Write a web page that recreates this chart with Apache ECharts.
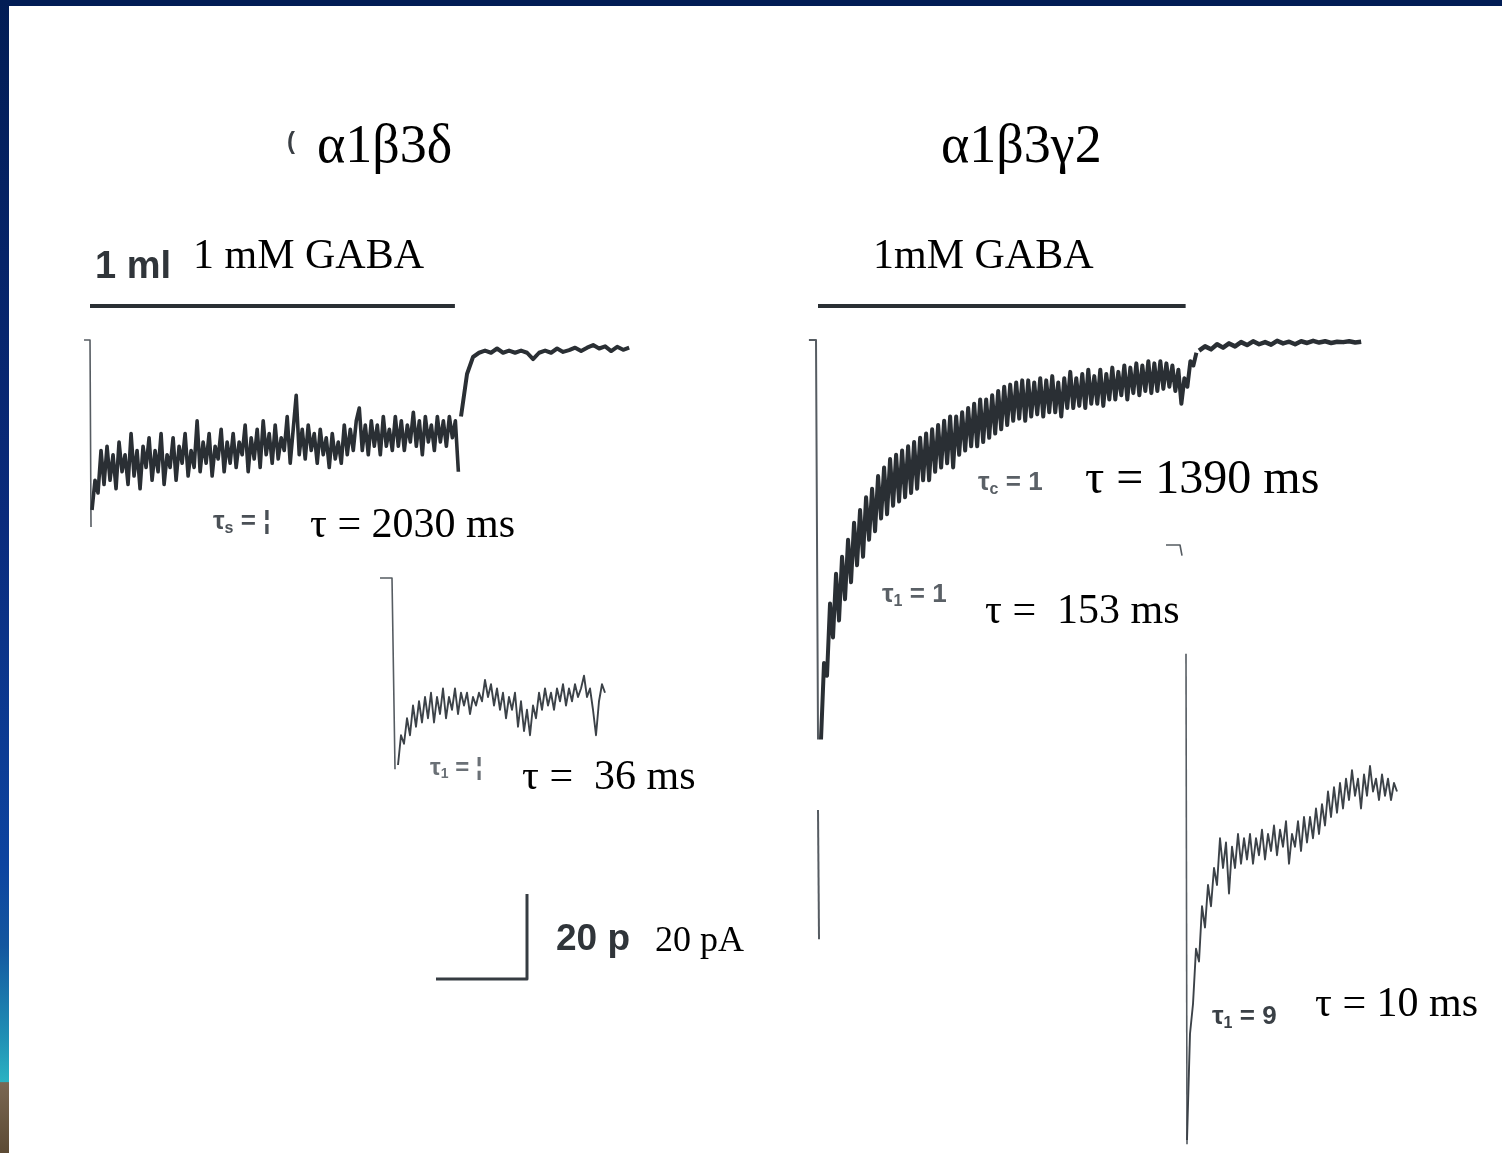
<!DOCTYPE html>
<html><head><meta charset="utf-8">
<script src="https://cdn.jsdelivr.net/npm/echarts@6/dist/echarts.min.js"></script>
<style>html,body{margin:0;padding:0;background:#fff}#c{width:1502px;height:1153px}</style>
</head><body><div id="c"></div>
<script>
// ---------- DATA (time in ms, current in pA relative to baseline) ----------
const gabaLeftMs = [0, 4010];          // 1 mM GABA application, alpha1beta3delta
const gabaRightMs = [0, 4040];         // 1 mM GABA application, alpha1beta3gamma2
const scaleBarMs = [0, 1000];
const scaleBarPA = [0, 20];

// alpha1beta3delta, full response
const aOnsetMs = [-66, -22, 0, 11];
const aOnsetPA = [0, 0, 0, -44];
const aDecayT0 = 22, aDecayDt = 33;
const aDecayPA = [
-40,-33,-36,-26,-34,-25,-33,-27,-35,-24,
-31,-27,-34,-22,-32,-26,-35,-25,-30,-23,
-33,-26,-31,-22,-34,-27,-30,-23,-33,-25,
-29,-22,-32,-26,-30,-19,-31,-24,-29,-22,
-32,-25,-28,-21,-31,-24,-29,-22,-30,-24,
-27,-20,-31,-23,-28,-21,-30,-19,-27,-22,
-29,-20,-28,-23,-26,-18,-29,-21,-13,-27,
-21,-28,-20,-26,-22,-29,-21,-27,-23,-30,
-22,-28,-24,-29,-20,-27,-21,-26,-19,-16,
-26,-20,-27,-19,-25,-20,-27,-18,-25,-21,
-26,-18,-25,-19,-26,-20,-24,-17,-25,-19,
-27,-18,-24,-20,-26,-18,-24,-19,-25,-18,
-23,-19,-31];
const aRecovT0 = 4077, aRecovDt = 66;
const aRecovPA = [-18,-8,-4,-3,-2.5,-3,-2,-3,-2.5,-3,-2.5,-3,-4.5,-3,-2.5,-3,-2,-2.8,-2.4,-1.8,-2.6,-1.8,-1.2,-2,-1.5,-2.6,-1.6,-2.3,-1.8];

// alpha1beta3delta, fast component (expanded time)
const bOnsetMs = [10, 22, 25];
const bOnsetPA = [0, 0, -45];
const bDecayT0 = 28, bDecayDt = 3;
const bDecayPA = [
-44,-37,-39,-33,-37,-30,-35,-29,-34,-28,
-33,-27,-34,-28,-32,-26,-33,-28,-31,-26,
-32,-27,-30,-27,-32,-28,-30,-27,-29,-24,
-28,-25,-30,-26,-31,-27,-33,-28,-31,-27,
-35,-29,-36,-31,-37,-30,-33,-27,-31,-26,
-30,-27,-31,-26,-29,-25,-30,-26,-29,-25,
-28,-26,-23,-28,-26,-31,-37,-29,-25,-27];

// alpha1beta3gamma2, full response
const cOnsetMs = [-100, -22, 0];
const cOnsetPA = [0, 0, -94];
const cPeakMs = [0, 11];
const cPeakPA = [-110.6, -141];
const cDecayT0 = 33, cDecayDt = 33;
const cDecayPA = [
-94,-76,-79,-62,-70,-55,-66,-51,-61,-47,
-57,-43,-53,-40,-51,-37,-47,-35,-45,-32,
-42,-30,-41,-28,-39,-27,-38,-26,-37,-25,
-36,-24,-35,-23,-33,-22,-33,-21,-31,-20,
-30,-19,-29,-18,-30,-18,-27,-17,-26,-16,
-25,-15,-25,-14,-24,-14,-23,-13,-22,-12,
-21,-11,-20,-10.5,-19,-10,-18.5,-9.5,-19,-9.5,
-18,-10,-17.5,-9,-18,-9.5,-17,-8.5,-17,-10,
-18,-9,-16,-7.5,-16,-9,-15.5,-8,-16,-7,
-15,-8.5,-15,-7,-15.5,-8,-14,-6.5,-14,-7.5,
-13,-6,-14,-6.5,-12.5,-5.5,-13,-6,-12,-5,
-12.5,-5.5,-12,-5,-11.5,-5.5,-11,-6,-12,-7,
-15,-9,-11,-5,-6,-3];
const cRecovT0 = 4187, cRecovDt = 66;
const cRecovPA = [-2.5,-1.5,-2.2,-1,-1.8,-0.8,-1.5,-0.5,-1.2,-0.3,-1,-0.5,-1.1,-0.2,-0.8,-0.4,-1,-0.3,-0.7,-0.2,-0.6,-0.3,-0.7,-0.4,-0.5,-0.3,-0.6,-0.4];

// alpha1beta3gamma2, fast component (expanded time)
const dOnsetMs = [4, 7.5, 8];
const dOnsetPA = [0, 0, -2.5];
const dPeakMs = [9, 9.25];
const dPeakPA = [-25.6, -141];
const dDecayT0 = 9.25, dDecayDt = 0.75;
const dDecayPA = [
-140,-115,-108,-95,-98,-85,-90,-80,-85,-76,
-80,-69,-76,-70,-82,-71,-76,-68,-75,-69,
-74,-68,-75,-69,-73,-67,-74,-68,-72,-66,
-73,-67,-71,-65,-75,-68,-71,-65,-72,-64,
-70,-64,-69,-62,-68,-61,-66,-58,-64,-57,
-63,-56,-62,-55,-60,-53,-59,-55,-62,-54,
-59,-52,-58,-55,-60,-54,-59,-55,-60,-56,
-58];

// ---------- BUILD ----------
const seg = (t0, dt, vals) => vals.map((v, i) => [t0 + i * dt, v]);
const pairs = (ts, vs) => ts.map((t, i) => [t, vs[i]]);

const TRACE = '#2a2f34';
const THIN = '#565c62';
const SERIF = "'Liberation Serif','Times New Roman',serif";
const SANS = "'Liberation Sans','DejaVu Sans',Arial,sans-serif";

const grids = [
  {left: 80, top: 318.75, width: 556.01, height: 233.75},   // 0 A
  {left: 370, top: 556.75, width: 250, height: 233.75},      // 1 B
  {left: 808, top: 318.75, width: 556.01, height: 658.75},   // 2 C
  {left: 1150, top: 523.75, width: 260, height: 624.75},     // 3 D
  {left: 90, top: 300, width: 546, height: 12},              // 4 GABA L
  {left: 818, top: 300, width: 546, height: 12},             // 5 GABA R
  {left: 436, top: 894, width: 91, height: 85}               // 6 scale
];
const xr = [[-110,6000],[0,250],[-110,6000],[0,65],[0,6000],[0,6000],[0,1000]];
const yr = [[-50,5],[-50,5],[-150,5],[-142,5],null,null,[0,20]];

const xAxis = xr.map((r, i) => ({gridIndex: i, type: 'value', min: r[0], max: r[1], show: false}));
const yAxis = yr.map((r, i) => r ? ({gridIndex: i, type: 'value', min: r[0], max: r[1], show: false})
                               : ({gridIndex: i, type: 'category', data: ['GABA'], show: false}));

function line(gi, data, width, color) {
  return {type: 'line', xAxisIndex: gi, yAxisIndex: gi, data: data, showSymbol: false, silent: true, clip: false,
          lineStyle: {width: width, color: color, join: 'round'}, z: 3};
}

const series = [
  line(0, pairs(aOnsetMs, aOnsetPA), 1.6, THIN),
  line(0, seg(aDecayT0, aDecayDt, aDecayPA), 3.6, TRACE),
  line(0, seg(aRecovT0, aRecovDt, aRecovPA), 4, TRACE),
  line(1, pairs(bOnsetMs, bOnsetPA), 1.6, THIN),
  line(1, seg(bDecayT0, bDecayDt, bDecayPA), 1.9, '#3c4248'),
  line(2, pairs(cOnsetMs, cOnsetPA), 2, THIN),
  line(2, pairs(cPeakMs, cPeakPA), 2, THIN),
  line(2, seg(cDecayT0, cDecayDt, cDecayPA), 4, TRACE),
  line(2, seg(cRecovT0, cRecovDt, cRecovPA), 4.5, TRACE),
  line(3, pairs(dOnsetMs, dOnsetPA), 1.6, THIN),
  line(3, pairs(dPeakMs, dPeakPA), 1.6, THIN),
  line(3, seg(dDecayT0, dDecayDt, dDecayPA), 1.9, '#3c4248'),
  line(4, gabaLeftMs.map(t => [t, 'GABA']), 4, TRACE),
  line(5, gabaRightMs.map(t => [t, 'GABA']), 4, TRACE),
  line(6, [[scaleBarMs[0], scaleBarPA[0]], [scaleBarMs[1], scaleBarPA[0]], [scaleBarMs[1], scaleBarPA[1]]], 3, '#363c42')
];

function txt(x, y, text, size, extra) {
  return Object.assign({type: 'text', x: x, y: y, z: 10, silent: true,
    style: Object.assign({text: text, font: size + 'px ' + SERIF, fill: '#000', textAlign: 'left', textVerticalAlign: 'middle'}, extra || {})});
}
function ghost(x, y, main, sub, tail, size, color) {
  return {type: 'text', x: x, y: y, z: 10, silent: true,
    style: {text: '{m|' + main + '}{s|' + sub + '}{m|' + tail + '}', textVerticalAlign: 'middle',
      rich: {m: {font: 'bold ' + size + 'px ' + SANS, fill: color},
             s: {font: 'bold ' + Math.round(size * 0.6) + 'px ' + SANS, fill: color, padding: [size * 0.5, 0, 0, 0]}}}};
}

const graphic = [
  {type: 'rect', z: 20, shape: {x: 0, y: 0, width: 1502, height: 6}, style: {fill: '#021d55'}},
  {type: 'rect', z: 20, shape: {x: 0, y: 0, width: 9, height: 1153},
   style: {fill: new echarts.graphic.LinearGradient(0, 0, 0, 1, [
     {offset: 0, color: '#021d55'}, {offset: 0.45, color: '#0a2b7c'}, {offset: 0.75, color: '#0d44a0'},
     {offset: 0.82, color: '#14569f'}, {offset: 0.9, color: '#2090b5'}, {offset: 0.938, color: '#2bb2c2'},
     {offset: 0.939, color: '#7a6752'}, {offset: 1, color: '#5c4a34'}])}},
  txt(317, 148, 'α1β3δ', 54),
  txt(941, 148, 'α1β3γ2', 54),
  txt(193, 257, '1 mM GABA', 42),
  txt(873, 257, '1mM GABA', 42),
  txt(310, 526, 'τ = 2030 ms', 42),
  txt(522, 778, 'τ =  36 ms', 42),
  txt(1085, 480, 'τ = 1390 ms', 48),
  txt(985, 612, 'τ =  153 ms', 42),
  txt(1315, 1005, 'τ = 10 ms', 42),
  txt(655, 942, '20 pA', 36),
  txt(95, 268, '1 ml', 38, {font: 'bold 38px ' + SANS, fill: '#30353a'}),
  txt(556, 940, '20 p', 37, {font: 'bold 37px ' + SANS, fill: '#30353a'}),
  txt(287, 142, '(', 24, {font: 'bold 24px ' + SANS, fill: '#3a3f44'}),
  ghost(213, 522, 'τ', 's', ' = ¦', 26, '#4a5056'),
  ghost(430, 768, 'τ', '1', ' = ¦', 24, '#6a7076'),
  ghost(978, 483, 'τ', 'c', ' = 1', 26, '#5a6066'),
  ghost(882, 595, 'τ', '1', ' = 1', 26, '#5a6066'),
  ghost(1212, 1017, 'τ', '1', ' = 9', 26, '#3a4046')
];

const chart = echarts.init(document.getElementById('c'));
chart.setOption({
  animation: false,
  backgroundColor: '#ffffff',
  grid: grids.map(g => Object.assign({containLabel: false}, g)),
  xAxis: xAxis,
  yAxis: yAxis,
  series: series,
  graphic: graphic
});
</script>
</body></html>
